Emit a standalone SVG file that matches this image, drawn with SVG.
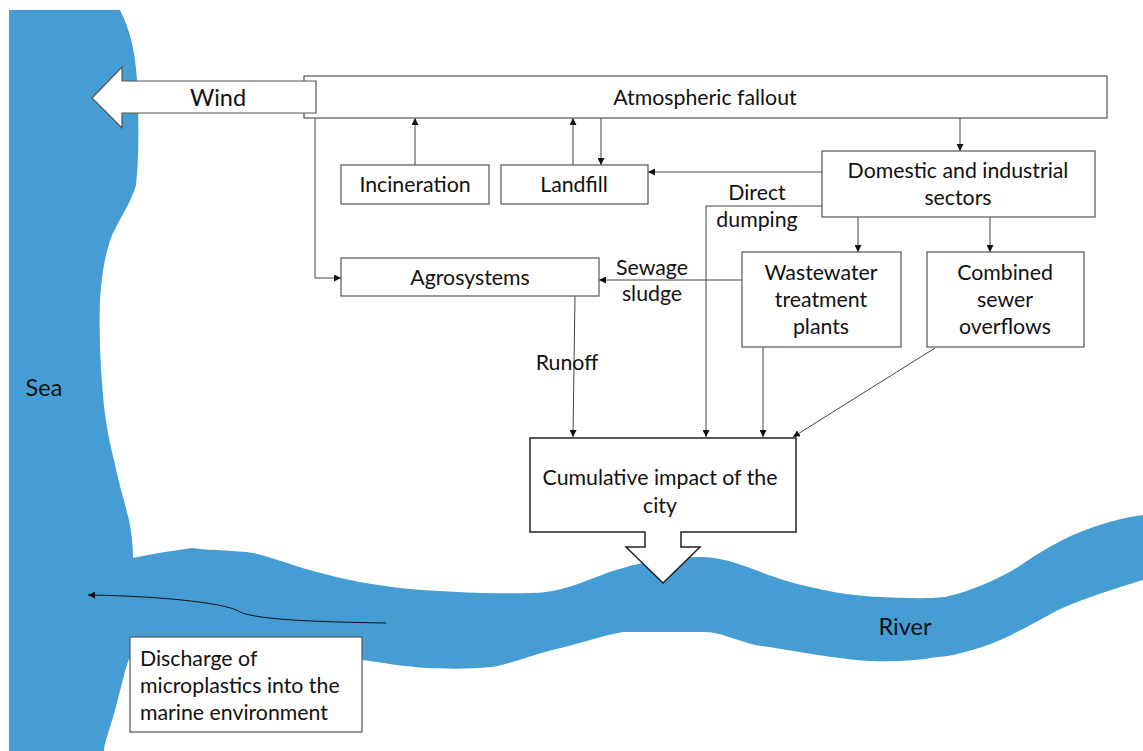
<svg xmlns="http://www.w3.org/2000/svg" width="1143" height="751" viewBox="0 0 1143 751">
<defs>
<marker id="ah" viewBox="0 0 10 10" refX="10" refY="5" markerWidth="7" markerHeight="7" markerUnits="userSpaceOnUse" orient="auto">
<path d="M0,0 L10,5 L0,10 Z" fill="#111"/>
</marker>
<style>
.box{fill:#fff;stroke:#555;stroke-width:1.2}
.t{font-family:Lato,"Liberation Sans",sans-serif;font-size:21.3px;fill:#111;text-anchor:middle}
.tl{font-family:Lato,"Liberation Sans",sans-serif;font-size:21.3px;fill:#111}
.c{fill:none;stroke:#444;stroke-width:1}
.water{fill:#459DD3}
</style>
</defs>
<rect width="1143" height="751" fill="#fff"/>
<g id="water">
<path class="water" d="M9,10 L120,10 C130,30 135,50 137,80 C139,120 139,160 136,185 C132,200 122,215 113,233 C106,250 102,270 100,300 C99,330 100,360 103,395 C105,420 109,440 114,460 C118,480 124,500 129,520 C132,535 133,548 133,558 C160,552 180,550 192,548 C215,551 235,550 253,553 C275,558 300,568 317,572 C345,580 375,585 400,588 C440,592 490,594 532,593 C570,592 595,575 623,568 C650,560 690,555 714,558 C740,562 760,573 790,582 C820,590 850,596 881,597 C905,598 925,599 945,597 C975,590 1000,578 1018,567 C1040,552 1060,540 1078,533 C1100,524 1120,518 1143,515 L1143,580 C1110,590 1080,600 1058,610 C1030,625 1005,640 982,647 C960,654 945,657 937,657 C910,662 880,662 856,660 C820,656 790,650 755,645 C735,640 720,632 704,632 L623,632 C600,636 575,645 552,650 C530,656 510,664 492,667 C470,669 450,669 426,668 C400,666 385,663 362,660 L250,640 L140,640 C132,650 128,660 124,675 C119,695 114,715 109,730 C106,740 104,746 104,751 L9,751 Z"/>
<text x="44" y="396" class="t" style="font-size:23.5px">Sea</text>
<text x="905" y="635" class="t" style="font-size:23.5px">River</text>
</g>
<g id="connectors">
<path class="c" d="M415,165 V118" marker-end="url(#ah)"/>
<path class="c" d="M573,165 V118" marker-end="url(#ah)"/>
<path class="c" d="M601,118 V165" marker-end="url(#ah)"/>
<path class="c" d="M960,118 V151" marker-end="url(#ah)"/>
<path class="c" d="M822,172 H648" marker-end="url(#ah)"/>
<path class="c" d="M822,206 H706 V437" marker-end="url(#ah)"/>
<path class="c" d="M858,217 V252" marker-end="url(#ah)"/>
<path class="c" d="M990,217 V252" marker-end="url(#ah)"/>
<path class="c" d="M742,280 H599" marker-end="url(#ah)"/>
<path class="c" d="M315,118 V278 H341" marker-end="url(#ah)"/>
<path class="c" d="M575,296 L573,437" marker-end="url(#ah)"/>
<path class="c" d="M763,347 V437" marker-end="url(#ah)"/>
<path class="c" d="M935,348 L793,437" marker-end="url(#ah)"/>
<path d="M386,623 C320,622 258,620 240,612 C228,603 160,596 88,595" fill="none" stroke="#111" stroke-width="1" marker-end="url(#ah)"/>
</g>
<g id="atmospheric">
<rect class="box" x="304" y="76" width="803" height="42"/>
<text x="705" y="105" class="t">Atmospheric fallout</text>
</g>
<g id="wind">
<path d="M92,98 L122,67 V81 H316 V113 H122 V128 Z" fill="#fff" stroke="#555" stroke-width="1.2"/>
<text x="218" y="106" class="t" style="font-size:23.5px">Wind</text>
</g>
<g id="incineration">
<rect class="box" x="341" y="165" width="148" height="39"/>
<text x="415" y="192" class="t">Incineration</text>
</g>
<g id="landfill">
<rect class="box" x="501" y="165" width="147" height="39"/>
<text x="574" y="192" class="t">Landfill</text>
</g>
<g id="domestic">
<rect class="box" x="822" y="151" width="273" height="66"/>
<text x="958" y="178" class="t">Domestic and industrial</text>
<text x="958" y="205" class="t">sectors</text>
</g>
<g id="direct-dumping">
<text x="757" y="200" class="t">Direct</text>
<text x="757" y="227" class="t">dumping</text>
</g>
<g id="agrosystems">
<rect class="box" x="341" y="258" width="258" height="38"/>
<text x="470" y="285" class="t">Agrosystems</text>
</g>
<g id="sewage-sludge">
<text x="652" y="275" class="t">Sewage</text>
<text x="652" y="301" class="t">sludge</text>
</g>
<g id="wastewater">
<rect class="box" x="742" y="252" width="159" height="95"/>
<text x="821" y="280" class="t">Wastewater</text>
<text x="821" y="307" class="t">treatment</text>
<text x="821" y="334" class="t">plants</text>
</g>
<g id="combined">
<rect class="box" x="927" y="252" width="157" height="95"/>
<text x="1005" y="280" class="t">Combined</text>
<text x="1005" y="307" class="t">sewer</text>
<text x="1005" y="334" class="t">overflows</text>
</g>
<g id="runoff">
<text x="567" y="370" class="t">Runoff</text>
</g>
<g id="cumulative">
<path d="M530,438 H796 V532 H681 V547 H700 L663,583 L626,547 H645 V532 H530 Z" fill="#fff" stroke="#222" stroke-width="1.5"/>
<text x="660" y="485" class="t">Cumulative impact of the</text>
<text x="660" y="513" class="t">city</text>
</g>
<g id="discharge">
<rect x="130" y="637" width="232" height="95" fill="#fff" stroke="#555" stroke-width="1.2"/>
<text x="140" y="666" class="tl">Discharge of</text>
<text x="140" y="693" class="tl">microplastics into the</text>
<text x="140" y="720" class="tl">marine environment</text>
</g>
</svg>
